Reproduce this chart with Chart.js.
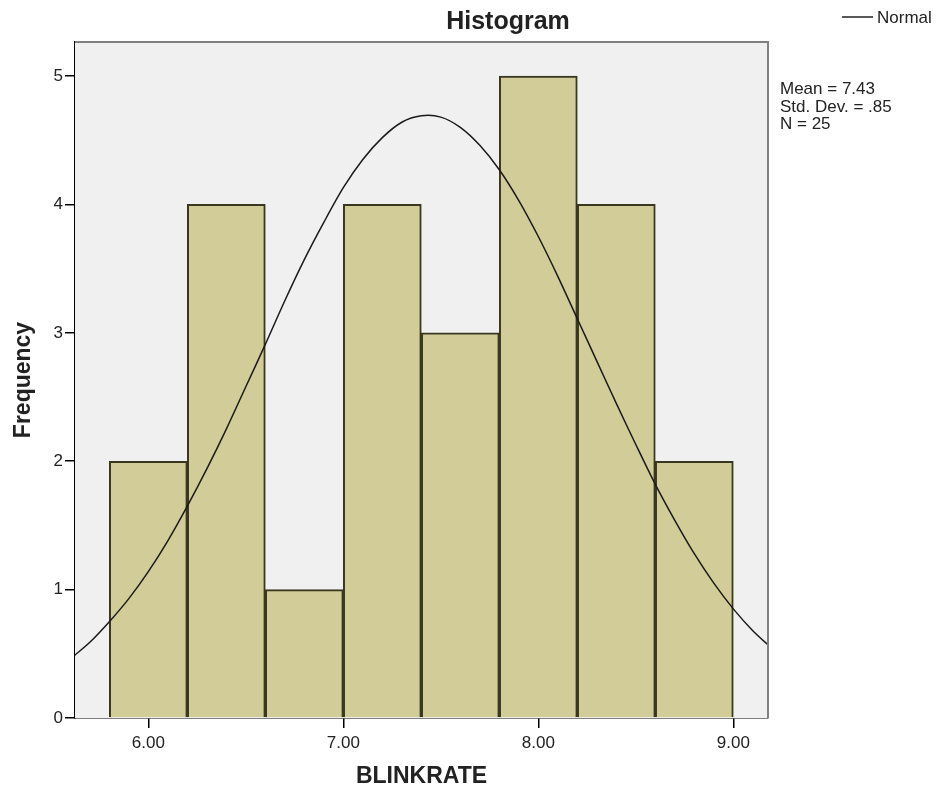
<!DOCTYPE html>
<html>
<head>
<meta charset="utf-8">
<title>Histogram</title>
<script src="https://cdn.jsdelivr.net/npm/chart.js@4.4.1/dist/chart.umd.min.js"></script>
<style>
    html, body { margin: 0; padding: 0; background: #fff; }
    #wrap { width: 937px; height: 797px; position: relative; }
</style>
</head>
<body>
<div id="wrap"><canvas id="histChart"></canvas></div>
<script>
// bins of BLINKRATE (centre of each 0.4 wide bin) and their counts
const binCenters = [6.0, 6.4, 6.8, 7.2, 7.6, 8.0, 8.4, 8.8];
const frequencies = [2, 4, 1, 4, 3, 5, 4, 2];

// normal curve
const curveX = [5.6, 5.7, 5.8, 5.9, 6.0, 6.1, 6.2, 6.3, 6.4, 6.5, 6.6, 6.7, 6.8, 6.9,
    7.0, 7.1, 7.2, 7.3, 7.4, 7.5, 7.6, 7.7, 7.8, 7.9, 8.0, 8.1, 8.2, 8.3, 8.4, 8.5,
    8.6, 8.7, 8.8, 8.9, 9.0, 9.1, 9.2];
const curveY = [0.46, 0.59, 0.75, 0.93, 1.14, 1.38, 1.65, 1.94, 2.25, 2.58, 2.91, 3.25, 3.57, 3.86,
    4.13, 4.35, 4.52, 4.64, 4.69, 4.68, 4.60, 4.46, 4.27, 4.03, 3.75, 3.44, 3.11, 2.78, 2.45, 2.13,
    1.82, 1.54, 1.28, 1.05, 0.85, 0.68, 0.54];

const xTicks = [6, 7, 8, 9];
const yTicks = [0, 1, 2, 3, 4, 5];
const statLines = ['Mean = 7.43', 'Std. Dev. = .85', 'N = 25'];

const textColor = '#222';

// plot background, frame, title, legend and stats box
const decorPlugin = {
    id: 'decor',
    beforeDatasetsDraw(chart) {
        const a = chart.chartArea;
        const ctx = chart.ctx;
        ctx.save();
        ctx.fillStyle = '#f0f0f0';
        ctx.fillRect(a.left, a.top, a.right - a.left, a.bottom - a.top);
        ctx.restore();
    },
    afterDraw(chart) {
        const a = chart.chartArea;
        const ctx = chart.ctx;
        ctx.save();
        // top and right frame
        ctx.strokeStyle = '#808080';
        ctx.lineWidth = 2;
        ctx.beginPath();
        ctx.moveTo(a.left, a.top);
        ctx.lineTo(a.right, a.top);
        ctx.lineTo(a.right, a.bottom);
        ctx.stroke();

        // title
        ctx.fillStyle = textColor;
        ctx.font = 'bold 25px "Liberation Sans", Arial, sans-serif';
        ctx.textAlign = 'center';
        ctx.textBaseline = 'alphabetic';
        ctx.fillText('Histogram', 508, 29);

        // legend
        ctx.strokeStyle = '#222';
        ctx.lineWidth = 1.5;
        ctx.beginPath();
        ctx.moveTo(842, 17);
        ctx.lineTo(873, 17);
        ctx.stroke();
        ctx.font = '17px "Liberation Sans", Arial, sans-serif';
        ctx.textAlign = 'left';
        ctx.fillText('Normal', 877, 23);

        // stats
        statLines.forEach(function (line, i) {
            ctx.fillText(line, 780, 94 + i * 17.5);
        });
        ctx.restore();
    }
};

const ctx = document.getElementById('histChart').getContext('2d');
const histChart = new Chart(ctx, {
    type: 'bar',
    data: {
        datasets: [{
            type: 'line',
            label: 'Normal',
            data: curveX.map((x, i) => ({ x: x, y: curveY[i] })),
            borderColor: '#1a1a1a',
            borderWidth: 1.5,
            pointRadius: 0,
            tension: 0.3,
            fill: false,
            order: 0
        }, {
            type: 'bar',
            label: 'BLINKRATE',
            data: binCenters.map((x, i) => ({ x: x, y: frequencies[i] })),
            backgroundColor: '#d2cc98',
            borderColor: '#3a3720',
            borderWidth: 2,
            barPercentage: 1,
            categoryPercentage: 1,
            order: 1
        }]
    },
    options: {
        responsive: true,
        maintainAspectRatio: false,
        animation: false,
        layout: {
            padding: { top: 42, right: 169, left: 0, bottom: 0 }
        },
        plugins: {
            legend: { display: false },
            tooltip: { enabled: false }
        },
        scales: {
            x: {
                type: 'linear',
                offset: false,
                min: 5.624,
                max: 9.178,
                afterBuildTicks: function (scale) {
                    scale.ticks = xTicks.map(v => ({ value: v }));
                },
                afterFit: function (scale) {
                    scale.height = 79;
                },
                ticks: {
                    color: textColor,
                    padding: 5,
                    maxRotation: 0,
                    font: { family: '"Liberation Sans", Arial, sans-serif', size: 17 },
                    callback: function (value) {
                        return Number(value).toFixed(2);
                    }
                },
                grid: {
                    display: true,
                    offset: false,
                    drawOnChartArea: false,
                    drawTicks: true,
                    tickLength: 10,
                    color: '#000',
                    lineWidth: 1.5
                },
                border: { display: true, color: '#000', width: 1.5 },
                title: {
                    display: true,
                    text: 'BLINKRATE',
                    color: textColor,
                    padding: { top: 0, bottom: 7 },
                    font: { family: '"Liberation Sans", Arial, sans-serif', size: 23, weight: 'bold' }
                }
            },
            y: {
                min: 0,
                max: 5.265,
                afterBuildTicks: function (scale) {
                    scale.ticks = yTicks.map(v => ({ value: v }));
                },
                afterFit: function (scale) {
                    scale.width = 75;
                },
                ticks: {
                    color: textColor,
                    padding: 2,
                    font: { family: '"Liberation Sans", Arial, sans-serif', size: 17 }
                },
                grid: {
                    display: true,
                    drawOnChartArea: false,
                    drawTicks: true,
                    tickLength: 10,
                    color: '#000',
                    lineWidth: 1.5
                },
                border: { display: true, color: '#000', width: 1.5 },
                title: {
                    display: true,
                    text: 'Frequency',
                    color: textColor,
                    padding: { top: 10, bottom: 0 },
                    font: { family: '"Liberation Sans", Arial, sans-serif', size: 23, weight: 'bold' }
                }
            }
        }
    },
    plugins: [decorPlugin]
});
</script>
</body>
</html>
